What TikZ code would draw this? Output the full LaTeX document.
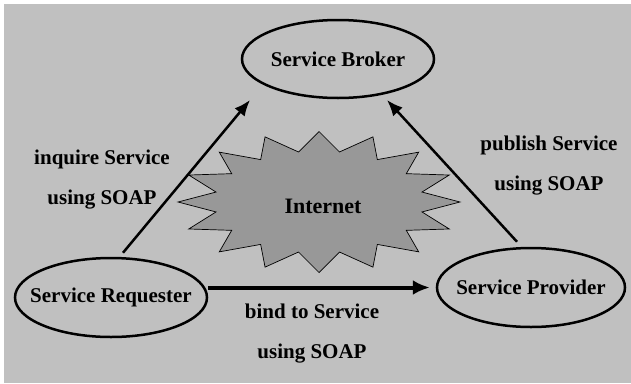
\documentclass[tikz,border=0pt]{standalone}
\usepackage{fontspec}
\setmainfont{Liberation Serif}
\usetikzlibrary{arrows.meta,shapes.geometric}
\definecolor{backgray}{RGB}{192,192,192}
\definecolor{burstgray}{RGB}{152,152,152}

\begin{document}
\begin{tikzpicture}[x=1pt,y=-1pt,>={Latex[length=16pt,width=13pt]}]
    \tikzstyle{role}=[ellipse,draw=black,line width=2.5pt,minimum width=192pt,minimum height=78pt,inner xsep=-40pt,inner ysep=0pt,font=\bfseries\fontsize{21}{25}\selectfont]
    \tikzstyle{annot}=[align=center,font=\bfseries\fontsize{21}{40}\selectfont]
    \tikzstyle{call}=[->,line width=2.5pt]
    \tikzstyle{burst}=[draw=black,line width=0.7pt,fill=burstgray]

    % Page size and grey background
    \useasboundingbox (0,0) rectangle (631,383);
    \fill[backgray] (4,4) rectangle (631,383);

    % Draw the Internet starburst (outer and inner points in turn)
    \begin{scope}[shift={(319,202)}]
        \draw[burst] (0:141 and 70.5)
            \foreach \i in {1,...,31}
                { -- ({\i*11.25}:{141-36*mod(\i,2)} and {70.5-19.5*mod(\i,2)}) }
            -- cycle;
    \end{scope}
    \node[font=\bfseries\fontsize{22}{26}\selectfont] (inet) at (323,206) {Internet};

    % Draw the three roles
    \node[role] (broker) at (338,59) {Service Broker};
    \node[role,minimum height=79pt] (req) at (111,297.5) {Service Requester};
    \node[role,minimum width=188pt,minimum height=79pt] (prov) at (531,287.5) {Service Provider};

    % Connect requester and provider with the broker
    \coordinate (inq-tip) at (250,100);
    \coordinate (pub-tip) at (387,100);
    \draw[call] ([xshift=12pt,yshift=4pt]req.north) -- (inq-tip);
    \draw[call] ([xshift=-14pt,yshift=5pt]prov.north) -- (pub-tip);
    \draw[call,line width=4pt,>={Latex[length=17pt,width=15pt]},shorten >=6pt] (req.east |- prov.west) -- (prov.west);

    % Annotate the connectors
    \node[annot] (inq) at (102,180) {inquire Service\\using SOAP};
    \node[annot] (pub) at (549,166) {publish Service\\using SOAP};
    \node[annot] (bind) at (312,334) {bind to Service\\using SOAP};
\end{tikzpicture}
\end{document}
